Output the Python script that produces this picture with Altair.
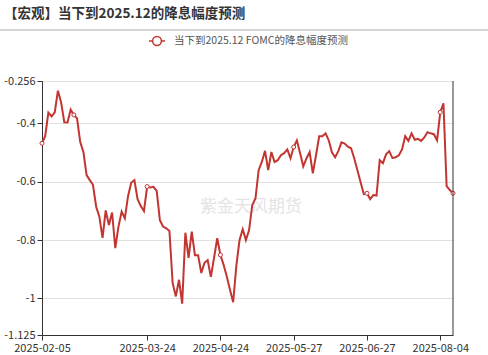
import altair as alt
import pandas as pd

FONT = "Noto Sans CJK SC"

# trading days shown on the category axis (month -> days)
feb_days = [5, 6, 7, 10, 11, 12, 13, 14, 17, 18, 19, 20, 21, 24, 25, 26, 27, 28]
mar_days = [3, 4, 5, 6, 7, 10, 11, 12, 13, 14, 17, 18, 19, 20, 21, 24, 25, 26, 27, 28, 31]
apr_days = [1, 2, 3, 4, 7, 8, 9, 10, 11, 14, 15, 16, 17, 18, 21, 22, 23, 24, 25, 28, 29, 30]
may_days = [1, 2, 5, 6, 7, 8, 9, 12, 13, 14, 15, 16, 19, 20, 21, 22, 23, 26, 27, 28, 29, 30]
jun_days = [2, 3, 4, 5, 6, 9, 10, 11, 12, 13, 16, 17, 18, 19, 20, 23, 24, 25, 26, 27, 30]
jul_days = [1, 2, 7, 8, 9, 10, 11, 14, 15, 16, 17, 18, 22, 23, 24, 25, 28, 29, 30, 31]
aug_days = [1, 4, 5, 6, 7, 8]

month_days = [(2, feb_days), (3, mar_days), (4, apr_days), (5, may_days),
              (6, jun_days), (7, jul_days), (8, aug_days)]
dates = [f"2025-{m:02d}-{d:02d}" for m, days in month_days for d in days]

values = [
    -0.469, -0.445, -0.364, -0.377, -0.363, -0.289, -0.329, -0.397, -0.398, -0.354,
    -0.372, -0.384, -0.465, -0.499, -0.578, -0.595, -0.611, -0.686, -0.720, -0.793,
    -0.699, -0.749, -0.706, -0.828, -0.754, -0.703, -0.726, -0.650, -0.604, -0.595,
    -0.660, -0.684, -0.701, -0.617, -0.620, -0.618, -0.632, -0.732, -0.754, -0.760,
    -0.769, -0.947, -0.993, -0.936, -1.018, -0.775, -0.861, -0.771, -0.852, -0.852,
    -0.913, -0.878, -0.869, -0.926, -0.861, -0.794, -0.851, -0.885, -0.925, -0.970,
    -1.013, -0.888, -0.800, -0.763, -0.800, -0.766, -0.680, -0.658, -0.561, -0.533,
    -0.495, -0.561, -0.499, -0.533, -0.527, -0.510, -0.503, -0.490, -0.520, -0.482,
    -0.459, -0.502, -0.548, -0.521, -0.499, -0.572, -0.510, -0.445, -0.445, -0.435,
    -0.459, -0.500, -0.517, -0.496, -0.466, -0.470, -0.481, -0.486, -0.520, -0.561,
    -0.602, -0.643, -0.640, -0.660, -0.646, -0.648, -0.527, -0.537, -0.507, -0.496,
    -0.520, -0.517, -0.510, -0.490, -0.445, -0.461, -0.435, -0.457, -0.454, -0.461,
    -0.449, -0.431, -0.435, -0.438, -0.459, -0.363, -0.332, -0.616, -0.629, -0.640,
]

series_name = "当下到2025.12 FOMC的降息幅度预测"
title_text = "【宏观】当下到2025.12的降息幅度预测"
watermark = "紫金天风期货"
tick_dates = ["2025-02-05", "2025-03-24", "2025-04-24", "2025-05-27", "2025-06-27", "2025-08-04"]
symbol_dates = ["2025-02-05", "2025-02-19", "2025-03-24", "2025-04-24", "2025-05-27",
                "2025-06-27", "2025-08-04", "2025-08-08"]
y_ticks = [-1.125, -1, -0.8, -0.6, -0.4, -0.256]
y_domain = [-1.125, -0.256]

df = pd.DataFrame({"date": dates, "value": values, "series": series_name})
txt = pd.DataFrame({"title": [title_text], "wm": [watermark]})

RED = "#c23531"
legend_path = ("M-1,0L-0.55,0M0.55,0L1,0"
               "M-0.55,0A0.55,0.55,0,1,1,0.55,0A0.55,0.55,0,1,1,-0.55,0")

x_enc = alt.X("date:O", sort=None, title=None,
              scale=alt.Scale(type="point", padding=0),
              axis=alt.Axis(values=tick_dates, labelAngle=0, grid=False,
                            domainColor="#333", tickColor="#333", labelColor="#333",
                            labelFontSize=11, labelFont=FONT, tickSize=5, labelPadding=2))
y_scale = alt.Scale(domain=y_domain, nice=False, zero=False)
y_enc = alt.Y("value:Q", title=None, scale=y_scale,
              axis=alt.Axis(values=y_ticks, labelExpr="datum.value + ''", grid=True,
                            gridColor="#e0e0e0", domainColor="#333", tickColor="#333",
                            labelColor="#333", labelFontSize=11, labelFont=FONT,
                            tickSize=5, labelPadding=2))
color_enc = alt.Color("series:N", scale=alt.Scale(range=[RED]),
                      legend=alt.Legend(orient="none", legendX=106, legendY=-49,
                                        title=None, symbolType=legend_path,
                                        symbolSize=256, symbolStrokeWidth=1.5,
                                        symbolFillColor="white", symbolStrokeColor=RED,
                                        labelFontSize=10.5, labelFont=FONT, labelLimit=0,
                                        labelColor="#555", padding=0, labelOffset=8))

line = alt.Chart(df).mark_line(strokeWidth=2).encode(x=x_enc, y=y_enc, color=color_enc)
points = alt.Chart(df).mark_point(filled=True, fill="white", stroke=RED, strokeWidth=1,
                                  size=16, opacity=1).encode(
    x=x_enc, y=y_enc).transform_filter(
    alt.FieldOneOfPredicate(field="date", oneOf=symbol_dates))

wm = alt.Chart(txt).mark_text(font=FONT, fontSize=17, color="#e4e4e4").encode(
    text="wm:N", x=alt.value(209), y=alt.value(126))
title = alt.Chart(txt).mark_text(font=FONT, fontSize=13.5, fontWeight="bold", color="#333",
                                 align="left", baseline="middle").encode(
    text="title:N", x=alt.value(-38), y=alt.value(-67))
sep = alt.Chart(txt).mark_rule(color="#c8c8c8", strokeWidth=1.5).encode(
    x=alt.value(-42), x2=alt.value(446), y=alt.value(-51))
right_border = alt.Chart(txt).mark_rule(color="#333", strokeWidth=1).encode(
    x=alt.value(411), y=alt.value(0), y2=alt.value(254))

chart = alt.layer(wm, line, points, right_border, title, sep).properties(
    width=411, height=254,
    padding={"left": 42, "top": 81, "right": 35, "bottom": 20},
    autosize=alt.AutoSizeParams(type="none"),
    background="white",
).configure_view(stroke=None)

chart.save("out.html", embed_options={"renderer": "svg", "actions": False})
